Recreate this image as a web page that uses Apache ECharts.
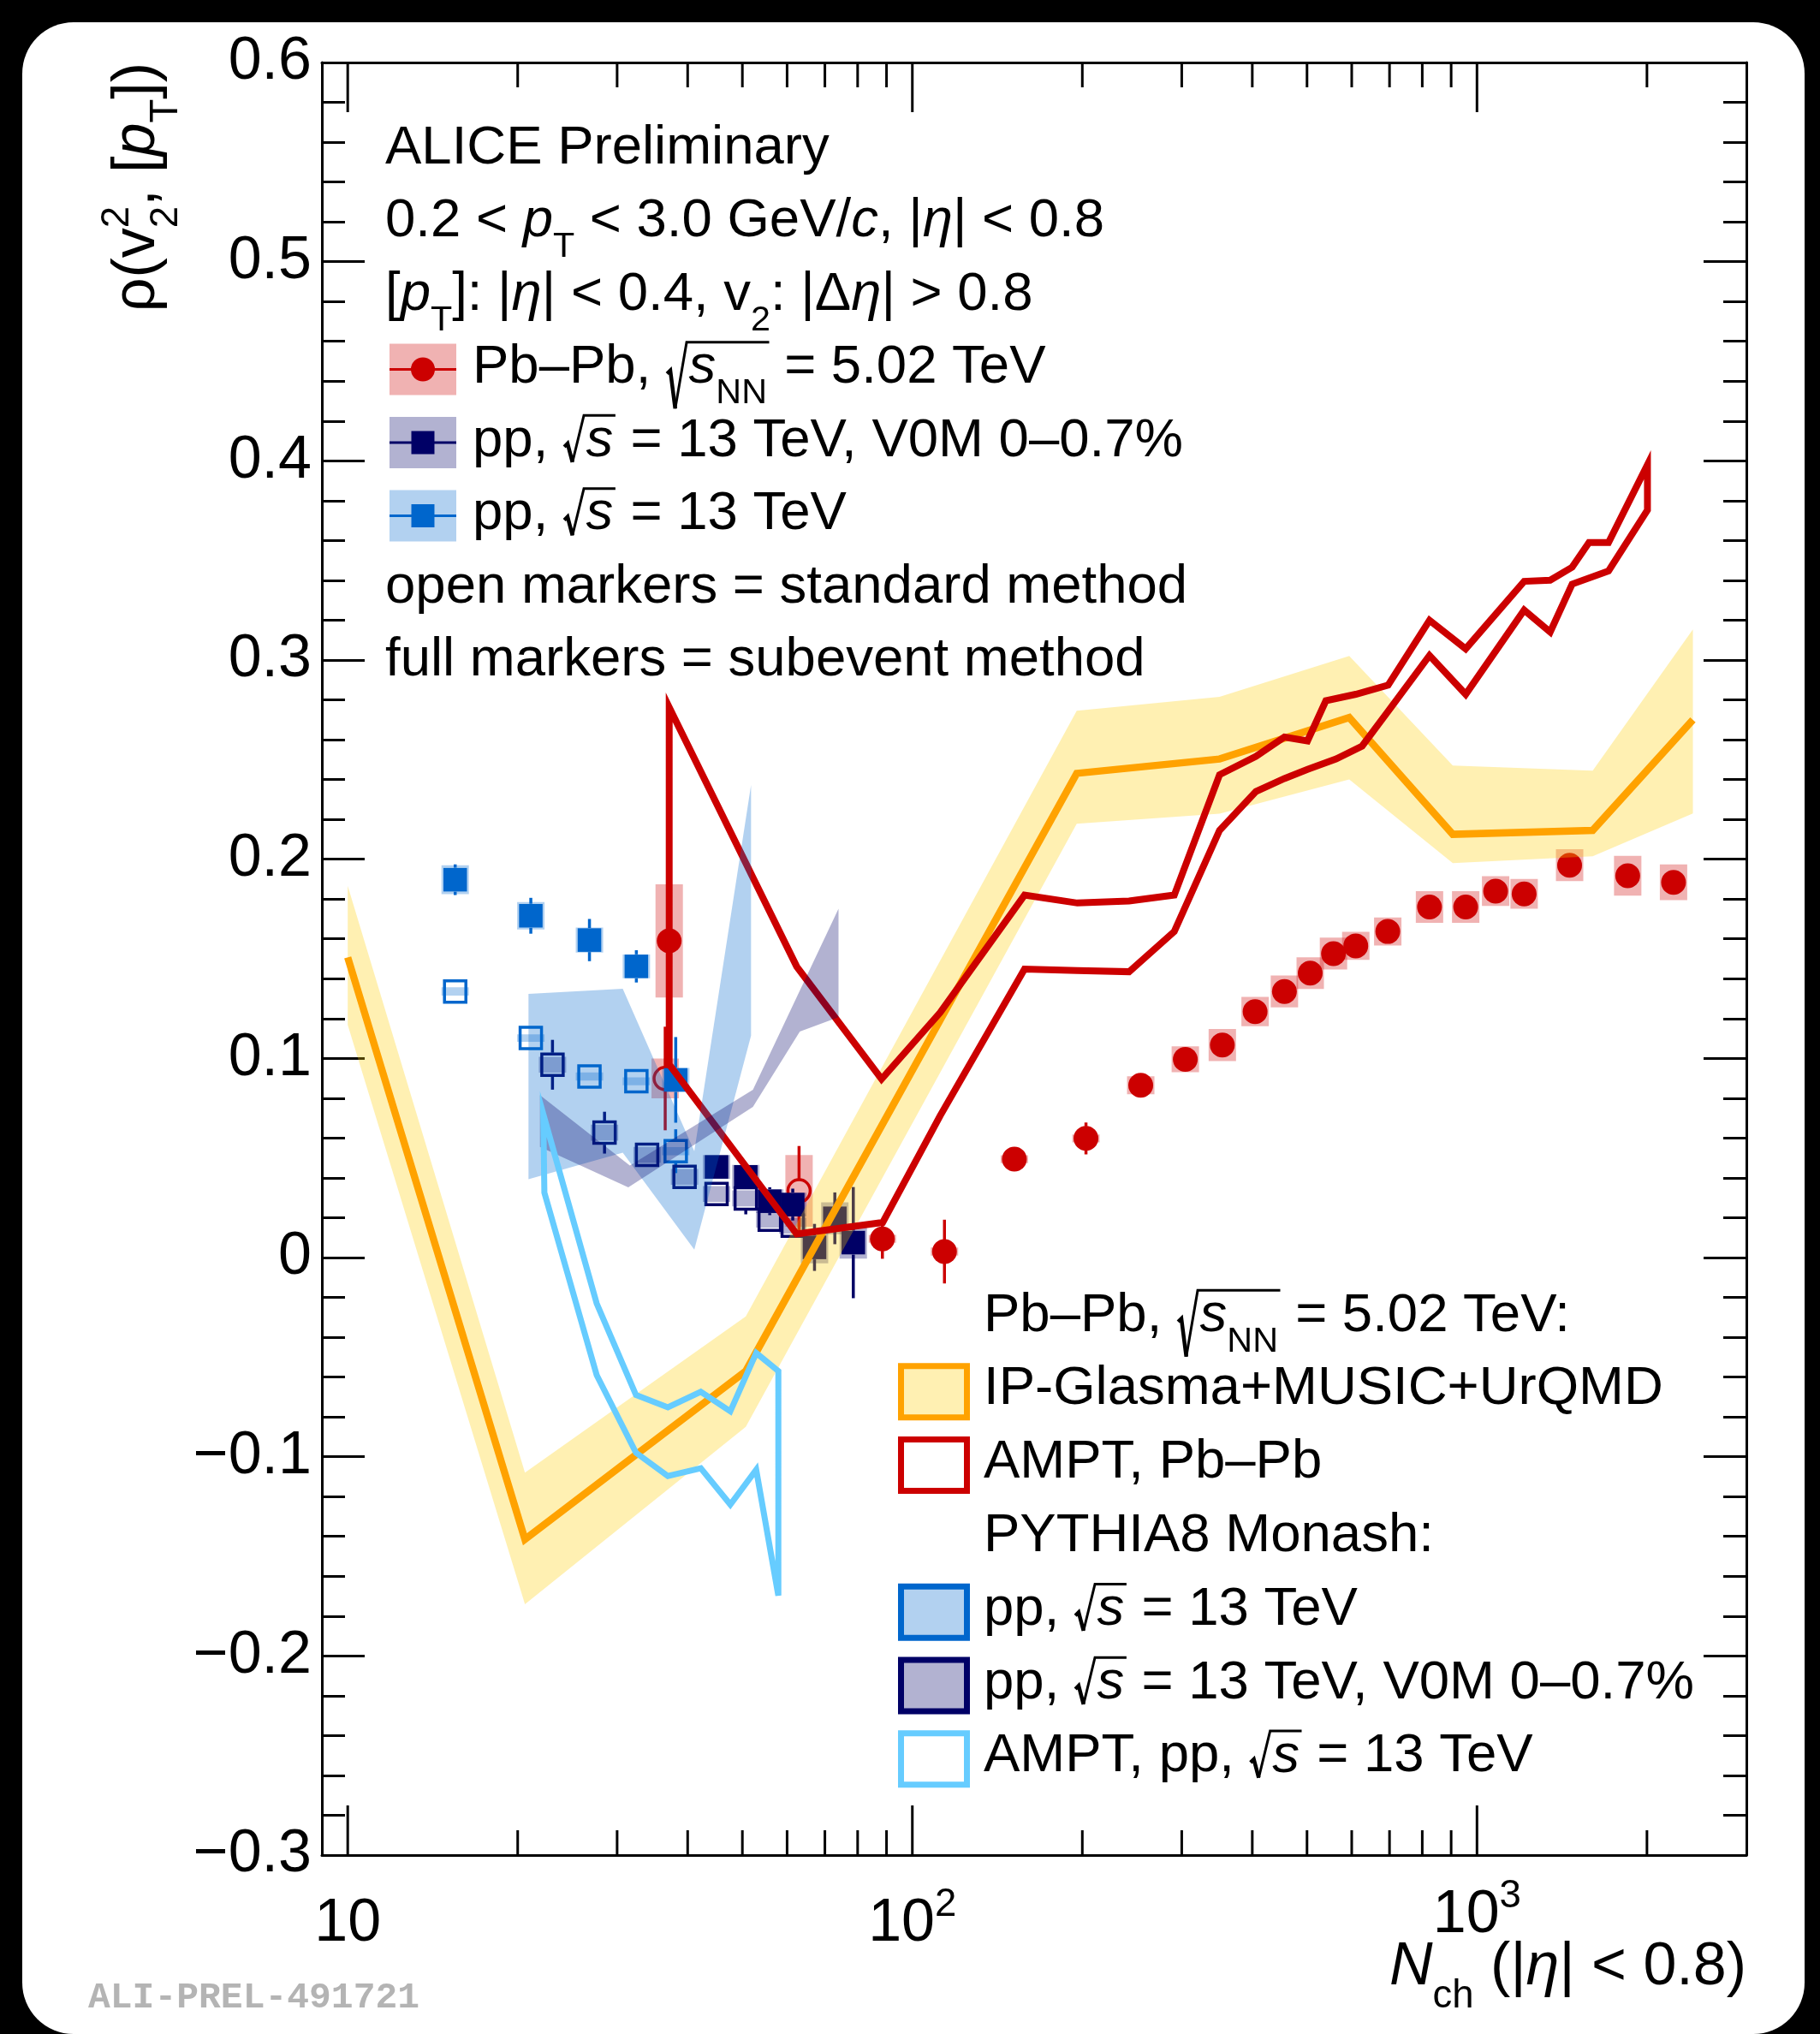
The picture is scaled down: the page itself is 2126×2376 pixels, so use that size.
<!DOCTYPE html>
<html>
<head>
<meta charset="utf-8">
<script src="https://cdn.jsdelivr.net/npm/echarts@6.0.0/dist/echarts.min.js"></script>
<style>
  html, body { margin: 0; padding: 0; background: #000; }
  #page { position: relative; width: 2126px; height: 2376px; background: #000; overflow: hidden; }
  #card { position: absolute; left: 26px; top: 26px; width: 2082px; height: 2350px; background: #fff; border-radius: 60px; }
  #chart { position: absolute; left: 0; top: 0; width: 2126px; height: 2376px; }
</style>
</head>
<body>
<div id="page"><div id="card"></div><div id="chart"></div></div>
<script>
// ---------------- measurements ----------------
// Pb–Pb, sqrt(sNN) = 5.02 TeV, subevent method (full markers)
const pbN    = [37.1, 88.5, 114, 151.6, 203, 253.8, 304.4, 354, 404.6, 456, 506.6, 557, 610, 695, 824, 955, 1079, 1212, 1459, 1849, 2229];
const pbRho  = [0.159, 0.0094, 0.003, 0.0494, 0.0598, 0.0865, 0.0995, 0.1067, 0.1235, 0.1336, 0.1428, 0.1526, 0.1565, 0.1637, 0.176, 0.176, 0.184, 0.1826, 0.197, 0.1917, 0.1884];
const pbStat = [0.03, 0.01, 0.016, 0.003, 0.008, 0.003, 0.003, 0.003, 0.004, 0.004, 0.004, 0.004, 0.004, 0.004, 0.005, 0.005, 0.005, 0.005, 0.006, 0.006, 0.006];
const pbSyst = [0.0284, 0.002, 0.002, 0.002, 0.002, 0.0045, 0.0065, 0.0081, 0.0074, 0.008, 0.008, 0.008, 0.007, 0.007, 0.008, 0.008, 0.0075, 0.0075, 0.008, 0.01, 0.009];
// Pb–Pb, standard method (open markers)
const pbStdN    = [36.5, 63];
const pbStdRho  = [0.0899, 0.0335];
const pbStdStat = [0.026, 0.0225];
const pbStdSyst = [0.01, 0.018];

// pp, sqrt(s) = 13 TeV, subevent method
const ppN    = [15.5, 21.1, 26.8, 32.45, 38.1];
const ppRho  = [0.1897, 0.1716, 0.1594, 0.1462, 0.0892];
const ppStat = [0.0077, 0.009, 0.0106, 0.0081, 0.0215];
const ppSyst = [0.0073, 0.0069, 0.0063, 0.006, 0.006];
// pp, sqrt(s) = 13 TeV, standard method
const ppStdN    = [15.5, 21.1, 26.8, 32.45, 38.1];
const ppStdRho  = [0.1336, 0.1102, 0.0909, 0.0885, 0.0534];
const ppStdStat = [0.003, 0.004, 0.004, 0.004, 0.011];
const ppStdSyst = [0.0021, 0.0019, 0.002, 0.002, 0.002];

// pp, sqrt(s) = 13 TeV, V0M 0–0.7 %, subevent method
const hmN    = [45.0, 50.7, 55.9, 61.4, 67.1, 72.9, 78.6];
const hmRho  = [0.0455, 0.0405, 0.0283, 0.0266, 0.0051, 0.0197, 0.0075];
const hmStat = [0.004, 0.006, 0.007, 0.008, 0.0118, 0.013, 0.0279];
const hmSyst = [0.006, 0.006, 0.006, 0.006, 0.008, 0.008, 0.008];
// pp, V0M 0–0.7 %, standard method
const hmStdN    = [23.05, 28.5, 33.9, 39.5, 45.0, 50.7, 55.9, 61.4];
const hmStdRho  = [0.0968, 0.0627, 0.0516, 0.0405, 0.0319, 0.0297, 0.019, 0.016];
const hmStdStat = [0.0125, 0.0105, 0.005, 0.004, 0.005, 0.008, 0.005, 0.005];
const hmStdSyst = [0.004, 0.004, 0.004, 0.004, 0.004, 0.004, 0.004, 0.004];

// IP-Glasma+MUSIC+UrQMD, Pb–Pb
const ipgN    = [10, 20.6, 50.7, 195.5, 350, 594, 906, 1603, 2412];
const ipgRho  = [0.1507, -0.1415, -0.057, 0.2431, 0.2503, 0.2711, 0.2125, 0.2145, 0.270];
const ipgHigh = [0.1866, -0.108, -0.0296, 0.2745, 0.2815, 0.302, 0.247, 0.2445, 0.3154];
const ipgLow  = [0.1168, -0.1741, -0.085, 0.2178, 0.2229, 0.240, 0.198, 0.2015, 0.223];

// AMPT, Pb–Pb (band edges)
const amptPbUpN   = [37.1, 62.4, 88.2, 112, 158, 196, 242, 291, 350, 406, 456, 501, 540, 610, 696, 824, 955, 1212, 1348, 1474, 1579, 1710, 2004];
const amptPbUpRho = [0.2763, 0.1461, 0.0896, 0.123, 0.182, 0.178, 0.179, 0.182, 0.2424, 0.2516, 0.2613, 0.2594, 0.2796, 0.2828, 0.2874, 0.3199, 0.3056, 0.3395, 0.3401, 0.3466, 0.359, 0.359, 0.398];
const amptPbLoN   = [37.1, 62.4, 88.6, 112, 158, 196, 242, 291, 350, 406, 456, 501, 563, 626, 696, 824, 955, 1212, 1348, 1474, 1710, 2004];
const amptPbLoRho = [0.097, 0.0118, 0.0176, 0.0712, 0.1448, 0.1441, 0.1435, 0.1637, 0.2145, 0.234, 0.2405, 0.2451, 0.2503, 0.2568, 0.2743, 0.3023, 0.2828, 0.3251, 0.3141, 0.3381, 0.3447, 0.3753];

// PYTHIA8 Monash, pp 13 TeV (band edges)
const pyPpN    = [20.9, 30.7, 41.1, 51.8];
const pyPpHigh = [0.1324, 0.135, 0.0534, 0.2372];
const pyPpLow  = [0.0393, 0.0527, 0.004, 0.1114];
// PYTHIA8 Monash, pp 13 TeV V0M 0–0.7 % (band edges)
const pyHmUpN   = [21.9, 31.6, 52.2, 74.0];
const pyHmUpRho = [0.0816, 0.0462, 0.0842, 0.1751];
const pyHmLoN   = [21.9, 31.4, 52.2, 63.2, 74.0];
const pyHmLoRho = [0.0555, 0.0352, 0.0756, 0.1135, 0.1207];

// AMPT, pp 13 TeV (band edges)
const amptPpUpN   = [22.2, 27.6, 32.4, 36.9, 42.2, 47.6, 52.9, 57.9];
const amptPpUpRho = [0.072, -0.023, -0.069, -0.0752, -0.0674, -0.0772, -0.0479, -0.057];
const amptPpLoN   = [22.3, 27.6, 32.4, 36.9, 42.2, 47.6, 52.9, 57.9];
const amptPpLoRho = [0.0326, -0.059, -0.098, -0.1097, -0.1058, -0.124, -0.1065, -0.1697];

// axes
const xMin = 9, xMax = 3000;
const yMin = -0.3, yMax = 0.6, yStep = 0.1;
const xTickValues = [10, 20, 30, 40, 50, 60, 70, 80, 90, 100, 200, 300, 400, 500, 600, 700, 800, 900, 1000, 2000];
const xLabelPowers = [1, 2, 3];

// ---------------- style ----------------
const RED = '#cc0000', RED_A = 'rgba(204,0,0,0.3)';
const BLUE = '#0066cc', BLUE_A = 'rgba(0,102,204,0.3)';
const NAVY = '#000066', NAVY_A = 'rgba(0,0,102,0.3)';
const ORANGE = '#ffa200', YELLOW_A = 'rgba(255,204,0,0.3)';
const SKY = '#66ccff';
const FONT = '"Liberation Sans", Arial, Helvetica, sans-serif';
const FS = 63.5; // annotation / legend text
const AX = 70;   // axis labels and titles
const K = 0.33;  // canvas "middle" to alphabetic baseline, in em

const zip = (xs, ys) => xs.map((x, i) => [x, ys[i]]);

// ---------------- series builders ----------------
function systBoxes(xs, ys, ss, fill, halfW) {
  return {
    type: 'custom', z: 3, silent: true,
    data: xs.map((x, i) => [x, ys[i], ss[i]]),
    renderItem: (p, api) => {
      const x = api.value(0), y = api.value(1), s = api.value(2);
      const t = api.coord([x, y + s]), b = api.coord([x, y - s]);
      return { type: 'rect', shape: { x: t[0] - halfW, y: t[1], width: 2 * halfW, height: b[1] - t[1] }, style: { fill } };
    }
  };
}
function statBars(xs, ys, es, color, gap) {
  return {
    type: 'custom', z: 4, silent: true,
    data: xs.map((x, i) => [x, ys[i], es[i]]),
    renderItem: (p, api) => {
      const x = api.value(0), y = api.value(1), e = api.value(2);
      const c = api.coord([x, y]), t = api.coord([x, y + e]), b = api.coord([x, y - e]);
      const kids = [];
      if (c[1] - gap > t[1]) kids.push({ type: 'line', shape: { x1: c[0], y1: t[1], x2: c[0], y2: c[1] - gap }, style: { stroke: color, lineWidth: 3.5 } });
      if (b[1] > c[1] + gap) kids.push({ type: 'line', shape: { x1: c[0], y1: c[1] + gap, x2: c[0], y2: b[1] }, style: { stroke: color, lineWidth: 3.5 } });
      return { type: 'group', children: kids };
    }
  };
}
function markers(xs, ys, symbol, color, open) {
  const size = symbol === 'circle' ? (open ? 26 : 29) : (open ? 25 : 27.5);
  return {
    type: 'scatter', z: 5, silent: true, symbol, symbolSize: size,
    data: zip(xs, ys),
    itemStyle: open ? { color: 'rgba(0,0,0,0)', borderColor: color, borderWidth: 3.5, opacity: 1 } : { color, opacity: 1 }
  };
}
function band(upN, upY, loN, loY, fill, z) {
  return {
    type: 'custom', z, silent: true, data: [[upN[0], upY[0]]],
    renderItem: (p, api) => {
      const pts = zip(upN, upY).map(q => api.coord(q)).concat(zip(loN, loY).reverse().map(q => api.coord(q)));
      return { type: 'polygon', shape: { points: pts }, style: { fill } };
    }
  };
}
function outline(upN, upY, loN, loY, stroke, width, z) {
  return {
    type: 'custom', z, silent: true, data: [[upN[0], upY[0]]],
    renderItem: (p, api) => {
      const pts = zip(upN, upY).map(q => api.coord(q)).concat(zip(loN, loY).reverse().map(q => api.coord(q)));
      return { type: 'polygon', shape: { points: pts }, style: { fill: 'none', stroke, lineWidth: width, lineJoin: 'miter', miterLimit: 10 } };
    }
  };
}
const xTicks = {
  type: 'custom', z: 12, silent: true,
  data: xTickValues.map(v => [v, yMin]),
  renderItem: (p, api) => {
    const v = api.value(0);
    const lg = Math.log10(v);
    const len = Math.abs(lg - Math.round(lg)) < 1e-9 ? 58 : 29;
    const b = api.coord([v, yMin]), t = api.coord([v, yMax]);
    return { type: 'group', children: [
      { type: 'line', shape: { x1: b[0], y1: b[1], x2: b[0], y2: b[1] - len }, style: { stroke: '#000', lineWidth: 3 } },
      { type: 'line', shape: { x1: t[0], y1: t[1], x2: t[0], y2: t[1] + len }, style: { stroke: '#000', lineWidth: 3 } }
    ] };
  }
};

// ---------------- text layout (sub/superscripts, radicals) ----------------
const mctx = document.createElement('canvas').getContext('2d');
const fontSpec = (size, italic) => (italic ? 'italic ' : '') + size.toFixed(2) + 'px ' + FONT;
function measure(str, size, italic) { mctx.font = fontSpec(size, italic); return mctx.measureText(str).width; }
const SUB = 0.65, SUB_DROP = 0.36, SUP_RISE = 0.45;
function tokWidth(t, size) {
  if (typeof t === 'string') return measure(t, size, false);
  if (t.it !== undefined) return measure(t.it, size, true);
  if (t.sub !== undefined) return measure(t.sub, size * SUB, false);
  if (t.sup !== undefined) return measure(t.sup, size * SUB, false);
  if (t.supsub) return Math.max(measure(t.supsub[0], size * SUB, false), measure(t.supsub[1], size * SUB, false));
  if (t.sqrt) return size * 0.42 + runWidth(t.sqrt, size) + size * 0.04;
  return 0;
}
function runWidth(tokens, size) { return tokens.reduce((s, t) => s + tokWidth(t, size), 0); }
function textEl(str, x, base, size, italic, color, out) {
  out.push({ type: 'text', x, y: base - K * size, silent: true,
    style: { text: str, font: fontSpec(size, italic), fill: color, align: 'left', verticalAlign: 'middle' } });
  return x + measure(str, size, italic);
}
function drawTok(t, x, base, size, color, out) {
  if (typeof t === 'string') return textEl(t, x, base, size, false, color, out);
  if (t.it !== undefined) return textEl(t.it, x, base, size, true, color, out);
  if (t.sub !== undefined) return textEl(t.sub, x, base + SUB_DROP * size, size * SUB, false, color, out);
  if (t.sup !== undefined) return textEl(t.sup, x, base - SUP_RISE * size, size * SUB, false, color, out);
  if (t.supsub) {
    const a = textEl(t.supsub[0], x, base - SUP_RISE * size, size * SUB, false, color, out);
    const b = textEl(t.supsub[1], x, base + SUB_DROP * size, size * SUB, false, color, out);
    return Math.max(a, b);
  }
  if (t.sqrt) {
    const hasSub = t.sqrt.some(q => q.sub !== undefined);
    const top = base - 0.8 * size, bot = base + (hasSub ? 0.42 : 0.06) * size;
    const end = drawRun(t.sqrt, x + 0.42 * size, base, size, color, out) + 0.04 * size;
    out.push({ type: 'polyline', silent: true, shape: { points: [[x + 0.02 * size, base - 0.22 * size], [x + 0.08 * size, base - 0.28 * size], [x + 0.17 * size, bot]] },
      style: { stroke: color, lineWidth: 4.5, fill: null } });
    out.push({ type: 'polyline', silent: true, shape: { points: [[x + 0.17 * size, bot], [x + 0.38 * size, top], [end, top]] },
      style: { stroke: color, lineWidth: 3, fill: null } });
    return end;
  }
  return x;
}
function drawRun(tokens, x, base, size, color, out) {
  for (const t of tokens) x = drawTok(t, x, base, size, color, out);
  return x;
}

const els = [];
const sqrtS = { sqrt: [{ it: 's' }] };
const sqrtSNN = { sqrt: [{ it: 's' }, { sub: 'NN' }] };

// upper-left annotation block with the data legend
const topX = 450, topBase = i => 194 + i * 85.5;
drawRun(['ALICE Preliminary'], topX, topBase(0), FS, '#000', els);
drawRun(['0.2 < ', { it: 'p' }, { sub: 'T' }, ' < 3.0 GeV/', { it: 'c' }, ', |', { it: 'η' }, '| < 0.8'], topX, topBase(1), FS, '#000', els);
drawRun(['[', { it: 'p' }, { sub: 'T' }, ']: |', { it: 'η' }, '| < 0.4, v', { sub: '2' }, ': |Δ', { it: 'η' }, '| > 0.8'], topX, topBase(2), FS, '#000', els);
function dataKey(row, boxFill, color, shape) {
  const cy = topBase(row) - 19;
  els.push({ type: 'rect', silent: true, shape: { x: 455, y: cy - 30, width: 78, height: 60 }, style: { fill: boxFill } });
  els.push({ type: 'line', silent: true, shape: { x1: 455, y1: cy, x2: 533, y2: cy }, style: { stroke: color, lineWidth: 3 } });
  if (shape === 'circle') els.push({ type: 'circle', silent: true, shape: { cx: 494, cy, r: 14 }, style: { fill: color } });
  else els.push({ type: 'rect', silent: true, shape: { x: 480.5, y: cy - 13.5, width: 27, height: 27 }, style: { fill: color } });
}
dataKey(3, RED_A, RED, 'circle');
drawRun(['Pb–Pb, ', sqrtSNN, ' = 5.02 TeV'], 552, topBase(3), FS, '#000', els);
dataKey(4, NAVY_A, NAVY, 'rect');
drawRun(['pp, ', sqrtS, ' = 13 TeV, V0M 0–0.7%'], 552, topBase(4), FS, '#000', els);
dataKey(5, BLUE_A, BLUE, 'rect');
drawRun(['pp, ', sqrtS, ' = 13 TeV'], 552, topBase(5), FS, '#000', els);
drawRun(['open markers = standard method'], topX, topBase(6), FS, '#000', els);
drawRun(['full markers = subevent method'], topX, topBase(7), FS, '#000', els);

// lower-right model legend
const botX = 1149, botBase = i => 1558 + i * 85.8;
function modelKey(row, fill, stroke) {
  const cy = botBase(row) - 18;
  els.push({ type: 'rect', silent: true, shape: { x: 1052.5, y: cy - 30, width: 77, height: 60 }, style: { fill, stroke, lineWidth: 7 } });
}
drawRun(['Pb–Pb, ', sqrtSNN, ' = 5.02 TeV:'], botX, botBase(0), FS, '#000', els);
modelKey(1, YELLOW_A, ORANGE);
drawRun(['IP-Glasma+MUSIC+UrQMD'], botX, botBase(1), FS, '#000', els);
modelKey(2, '#fff', RED);
drawRun(['AMPT, Pb–Pb'], botX, botBase(2), FS, '#000', els);
drawRun(['PYTHIA8 Monash:'], botX, botBase(3), FS, '#000', els);
modelKey(4, BLUE_A, BLUE);
drawRun(['pp, ', sqrtS, ' = 13 TeV'], botX, botBase(4), FS, '#000', els);
modelKey(5, NAVY_A, NAVY);
drawRun(['pp, ', sqrtS, ' = 13 TeV, V0M 0–0.7%'], botX, botBase(5), FS, '#000', els);
modelKey(6, '#fff', SKY);
drawRun(['AMPT, pp, ', sqrtS, ' = 13 TeV'], botX, botBase(6), FS, '#000', els);

// axis titles
const yTitle = ['ρ(v', { supsub: ['2', '2'] }, ', [', { it: 'p' }, { sub: 'T' }, '])'];
const yTitleKids = [];
drawRun(yTitle, -runWidth(yTitle, AX), 0, AX, '#000', yTitleKids);
els.push({ type: 'group', x: 184, y: 73, rotation: Math.PI / 2, children: yTitleKids });
const xTitle = [{ it: 'N' }, { sub: 'ch' }, ' (|', { it: 'η' }, '| < 0.8)'];
drawRun(xTitle, 2040 - runWidth(xTitle, AX), 2322, AX, '#000', els);

// preliminary figure id
els.push({ type: 'text', x: 103, y: 2334, silent: true,
  style: { text: 'ALI-PREL-491721', font: 'bold 43px "Liberation Mono", "DejaVu Sans Mono", monospace', fill: '#b4b4b4', align: 'left', verticalAlign: 'middle' } });

function setZ(list, z) { list.forEach(e => { e.z = z; if (e.children) setZ(e.children, z); }); }
setZ(els, 60);

// ---------------- chart ----------------
const chart = echarts.init(document.getElementById('chart'), null, { renderer: 'canvas', width: 2126, height: 2376 });
const axisLineStyle = { color: '#000', width: 3 };
const yAxisBase = {
  type: 'value', min: yMin, max: yMax, interval: yStep,
  axisLine: { show: true, onZero: false, lineStyle: axisLineStyle },
  axisTick: { show: true, inside: true, length: 50, lineStyle: { color: '#000', width: 3 } },
  minorTick: { show: true, splitNumber: 5, length: 27, lineStyle: { color: '#000', width: 3 } },
  splitLine: { show: false }, minorSplitLine: { show: false }
};
// exponent labels: every token carries the same total vertical padding so all labels share one line box
const labelRich = {
  b:  { fontSize: AX, lineHeight: AX, fontFamily: FONT, color: '#000', padding: [33, 0, 33, 0] },
  s:  { fontSize: AX * SUB, lineHeight: AX, fontFamily: FONT, color: '#000', padding: [10, 0, 56, 0] },
  b3: { fontSize: AX, lineHeight: AX, fontFamily: FONT, color: '#000', padding: [23, 0, 43, 0] },
  s3: { fontSize: AX * SUB, lineHeight: AX, fontFamily: FONT, color: '#000', padding: [0, 0, 66, 0] }
};
const option = {
  animation: false,
  backgroundColor: 'transparent',
  grid: { left: 376, right: 86, top: 73, bottom: 209, containLabel: false, outerBoundsMode: 'none' },
  xAxis: [
    {
      type: 'log', logBase: 10, min: xMin, max: xMax, position: 'bottom',
      axisLine: { show: true, onZero: false, lineStyle: axisLineStyle },
      axisTick: { show: false }, splitLine: { show: false },
      axisLabel: {
        show: true, margin: 46, color: '#000', fontFamily: FONT,
        formatter: v => {
          const lg = Math.log10(v), p = Math.round(lg);
          if (Math.abs(lg - p) > 1e-6 || !xLabelPowers.includes(p)) return '';
          if (p === 1) return '{b|10}';
          return p === 3 ? '{b3|10}{s3|3}' : '{b|10}{s|' + p + '}';
        },
        rich: labelRich
      }
    },
    {
      type: 'log', logBase: 10, min: xMin, max: xMax, position: 'top',
      axisLine: { show: true, onZero: false, lineStyle: axisLineStyle },
      axisTick: { show: false }, axisLabel: { show: false }, splitLine: { show: false }
    }
  ],
  yAxis: [
    Object.assign({}, yAxisBase, {
      position: 'left',
      axisLabel: {
        show: true, margin: 12, color: '#000', fontSize: AX, fontFamily: FONT,
        formatter: v => { const r = Math.round(v * 10) / 10; return r === 0 ? '0' : (r < 0 ? '−' : '') + Math.abs(r).toFixed(1); }
      }
    }),
    Object.assign({}, yAxisBase, { position: 'right', axisLabel: { show: false } })
  ],
  series: [
    systBoxes(pbN, pbRho, pbSyst, RED_A, 16),
    systBoxes(pbStdN, pbStdRho, pbStdSyst, RED_A, 16),
    systBoxes(ppN, ppRho, ppSyst, BLUE_A, 16),
    systBoxes(ppStdN, ppStdRho, ppStdSyst, BLUE_A, 16),
    systBoxes(hmN, hmRho, hmSyst, NAVY_A, 16),
    systBoxes(hmStdN, hmStdRho, hmStdSyst, NAVY_A, 16),
    statBars(pbN, pbRho, pbStat, RED, 14),
    statBars(pbStdN, pbStdRho, pbStdStat, RED, 14),
    statBars(ppN, ppRho, ppStat, BLUE, 14),
    statBars(ppStdN, ppStdRho, ppStdStat, BLUE, 14),
    statBars(hmN, hmRho, hmStat, NAVY, 14),
    statBars(hmStdN, hmStdRho, hmStdStat, NAVY, 14),
    markers(ppStdN, ppStdRho, 'rect', BLUE, true),
    markers(hmStdN, hmStdRho, 'rect', NAVY, true),
    markers(pbStdN, pbStdRho, 'circle', RED, true),
    markers(ppN, ppRho, 'rect', BLUE, false),
    markers(hmN, hmRho, 'rect', NAVY, false),
    markers(pbN, pbRho, 'circle', RED, false),
    band(ipgN, ipgHigh, ipgN, ipgLow, YELLOW_A, 6),
    {
      type: 'line', z: 7, silent: true, data: zip(ipgN, ipgRho), showSymbol: false, symbol: 'none',
      lineStyle: { color: ORANGE, width: 8.5, join: 'miter' }
    },
    outline(amptPbUpN, amptPbUpRho, amptPbLoN, amptPbLoRho, RED, 8, 8),
    band(pyPpN, pyPpHigh, pyPpN, pyPpLow, BLUE_A, 9),
    band(pyHmUpN, pyHmUpRho, pyHmLoN, pyHmLoRho, NAVY_A, 10),
    outline(amptPpUpN, amptPpUpRho, amptPpLoN, amptPpLoRho, SKY, 7, 11),
    xTicks
  ],
  graphic: { elements: els }
};
chart.setOption(option);
</script>
</body>
</html>
